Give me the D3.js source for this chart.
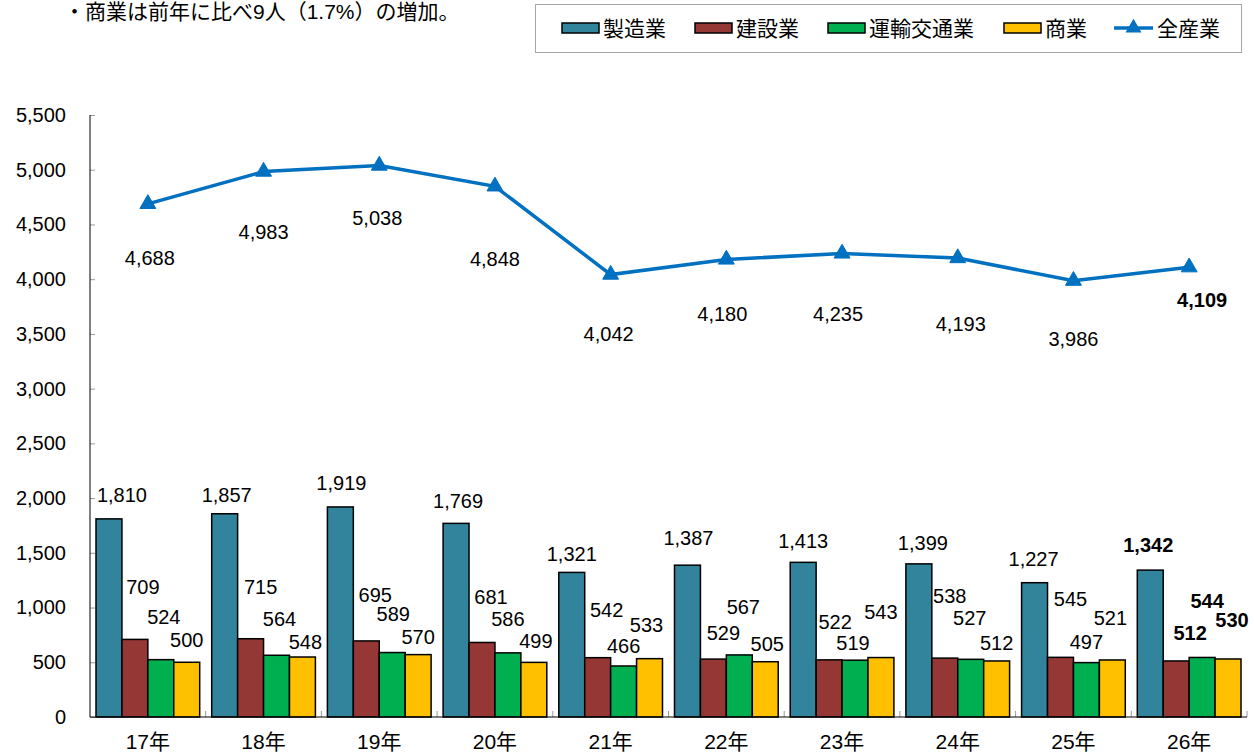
<!DOCTYPE html>
<html>
<head>
<meta charset="utf-8">
<script src="https://cdn.jsdelivr.net/npm/d3@7"></script>
<style>
  body { margin: 0; background: #fff; }
  svg text { font-family: "Liberation Sans", Arial, "Noto Sans CJK JP", sans-serif; fill: #000; }
</style>
</head>
<body>
<div id="chart"></div>
<script>
// Data
const years = ['17年', '18年', '19年', '20年', '21年', '22年', '23年', '24年', '25年', '26年'];
const seriesNames = ['製造業', '建設業', '運輸交通業', '商業'];
const manufacturing = [1810, 1857, 1919, 1769, 1321, 1387, 1413, 1399, 1227, 1342];
const construction = [709, 715, 695, 681, 542, 529, 522, 538, 545, 512];
const transport = [524, 564, 589, 586, 466, 567, 519, 527, 497, 544];
const commerce = [500, 548, 570, 499, 533, 505, 543, 512, 521, 530];
const allIndustry = [4688, 4983, 5038, 4848, 4042, 4180, 4235, 4193, 3986, 4109];
const lineName = '全産業';
const yTicks = [0, 500, 1000, 1500, 2000, 2500, 3000, 3500, 4000, 4500, 5000, 5500];
const note = '・商業は前年に比べ9人（1.7%）の増加。';

// Layout
const WIDTH = 1254;
const HEIGHT = 755;
const LEFT = 90, RIGHT = 1247, TOP = 115, BOTTOM = 717;
const COLORS = ['#31849B', '#953735', '#00B050', '#FFC000'];
const LINE_COLOR = '#0070C0';

// Hand placed data labels (offsets from the top of each bar / line point)
const barLabelDx = [
  [13, 2, 1, 2, 0, 1, 0, 4, -1, -2],
  [8, 10, 9, 9, 9, 10, 6, 5, 10, 14],
  [3, 3, 1, 0, 0, 4, -2, -1, 0, 5],
  [0, 3, 0, 2, -3, 2, 0, 0, -2, 4]
];
const barLabelDy = [
  [-24, -19, -24, -23, -19, -27, -22, -21, -24, -25],
  [-53, -52, -46, -46, -48, -26, -38, -62, -59, -28],
  [-43, -36, -39, -34, -20, -48, -17, -42, -21, -57],
  [-22, -15, -18, -22, -34, -18, -46, -18, -42, -39]
];
const lineLabelDx = [2, 0, -2, 0, -2, -4, -4, 3, 0, 13];
const lineLabelDy = [54, 60, 52, 72, 59, 54, 60, 66, 58, 33];

const barSeries = [manufacturing, construction, transport, commerce];
const fmt = d3.format(',');

const svg = d3.select('#chart')
  .append('svg')
  .attr('width', WIDTH)
  .attr('height', HEIGHT);

// Scales
const x0 = d3.scaleBand().domain(years).range([LEFT, RIGHT]).padding(0);
const x1 = d3.scaleBand().domain(d3.range(4)).range([6, x0.bandwidth() - 6]).padding(0);
const y = d3.scaleLinear().domain([0, 5500]).range([BOTTOM, TOP]);

// Note at the top
svg.append('text')
  .attr('x', 64)
  .attr('y', 19)
  .attr('font-size', 21)
  .text(note);

// Y axis
const yAxis = svg.append('g')
  .attr('transform', 'translate(' + LEFT + ',0)')
  .call(d3.axisRight(y).tickValues(yTicks).tickFormat(fmt).tickSize(5));
yAxis.select('.domain').remove();
yAxis.selectAll('.tick line').attr('stroke', '#999');
yAxis.selectAll('.tick text')
  .attr('x', -24)
  .attr('text-anchor', 'end')
  .attr('font-size', 20)
  .attr('font-family', null);
svg.append('line')
  .attr('x1', LEFT).attr('x2', LEFT)
  .attr('y1', TOP).attr('y2', BOTTOM)
  .attr('stroke', '#000');

// X axis ticks between groups
svg.append('g')
  .selectAll('line')
  .data(years)
  .enter()
  .append('line')
  .attr('x1', d => x0(d) + x0.bandwidth())
  .attr('x2', d => x0(d) + x0.bandwidth())
  .attr('y1', BOTTOM)
  .attr('y2', BOTTOM - 6)
  .attr('stroke', '#999');

// Bars
barSeries.forEach(function(values, s) {
  svg.append('g')
    .selectAll('rect')
    .data(values)
    .enter()
    .append('rect')
    .attr('x', (d, i) => x0(years[i]) + x1(s))
    .attr('y', d => y(d))
    .attr('width', x1.bandwidth())
    .attr('height', d => y(0) - y(d))
    .attr('fill', COLORS[s])
    .attr('stroke', '#000')
    .attr('stroke-width', 1.5);
});

// X axis line and labels
svg.append('line')
  .attr('x1', LEFT).attr('x2', RIGHT)
  .attr('y1', BOTTOM).attr('y2', BOTTOM)
  .attr('stroke', '#000');
svg.append('g')
  .selectAll('text')
  .data(years)
  .enter()
  .append('text')
  .attr('x', d => x0(d) + x0.bandwidth() / 2)
  .attr('y', 749)
  .attr('text-anchor', 'middle')
  .attr('font-size', 21)
  .text(d => d);

// Bar labels
barSeries.forEach(function(values, s) {
  svg.append('g')
    .selectAll('text')
    .data(values)
    .enter()
    .append('text')
    .attr('x', (d, i) => x0(years[i]) + x1(s) + x1.bandwidth() / 2 + barLabelDx[s][i])
    .attr('y', (d, i) => y(d) + barLabelDy[s][i])
    .attr('dy', '0.36em')
    .attr('text-anchor', 'middle')
    .attr('font-size', 20)
    .attr('font-weight', (d, i) => i === years.length - 1 ? 'bold' : 'normal')
    .text(d => fmt(d));
});

// Line for all industries
const cx = d => x0(d) + x0.bandwidth() / 2;
const line = d3.line()
  .x((d, i) => cx(years[i]))
  .y(d => y(d));
svg.append('path')
  .datum(allIndustry)
  .attr('d', line)
  .attr('fill', 'none')
  .attr('stroke', LINE_COLOR)
  .attr('stroke-width', 3.5);

const triangle = d3.symbol().type(d3.symbolTriangle).size(110);
svg.append('g')
  .selectAll('path')
  .data(allIndustry)
  .enter()
  .append('path')
  .attr('d', triangle)
  .attr('transform', (d, i) => 'translate(' + cx(years[i]) + ',' + y(d) + ')')
  .attr('fill', LINE_COLOR)
  .attr('stroke', LINE_COLOR)
  .attr('stroke-width', 1);

svg.append('g')
  .selectAll('text')
  .data(allIndustry)
  .enter()
  .append('text')
  .attr('x', (d, i) => cx(years[i]) + lineLabelDx[i])
  .attr('y', (d, i) => y(d) + lineLabelDy[i])
  .attr('dy', '0.36em')
  .attr('text-anchor', 'middle')
  .attr('font-size', 20)
  .attr('font-weight', (d, i) => i === years.length - 1 ? 'bold' : 'normal')
  .text(d => fmt(d));

// Legend
const legend = svg.append('g');
legend.append('rect')
  .attr('x', 535.5).attr('y', 4.5)
  .attr('width', 706).attr('height', 48)
  .attr('fill', '#fff')
  .attr('stroke', '#a6a6a6');
const legendX = [562, 695, 828, 1004];
seriesNames.forEach(function(name, s) {
  legend.append('rect')
    .attr('x', legendX[s]).attr('y', 23)
    .attr('width', 37).attr('height', 10)
    .attr('fill', COLORS[s])
    .attr('stroke', '#000')
    .attr('stroke-width', 1.5);
  legend.append('text')
    .attr('x', legendX[s] + 41).attr('y', 28)
    .attr('dy', '0.36em')
    .attr('font-size', 21)
    .text(name);
});
legend.append('line')
  .attr('x1', 1114).attr('x2', 1153)
  .attr('y1', 28).attr('y2', 28)
  .attr('stroke', LINE_COLOR)
  .attr('stroke-width', 3.5);
legend.append('path')
  .attr('d', triangle)
  .attr('transform', 'translate(1133.5,28)')
  .attr('fill', LINE_COLOR);
legend.append('text')
  .attr('x', 1157).attr('y', 28)
  .attr('dy', '0.36em')
  .attr('font-size', 21)
  .text(lineName);
</script>
</body>
</html>
